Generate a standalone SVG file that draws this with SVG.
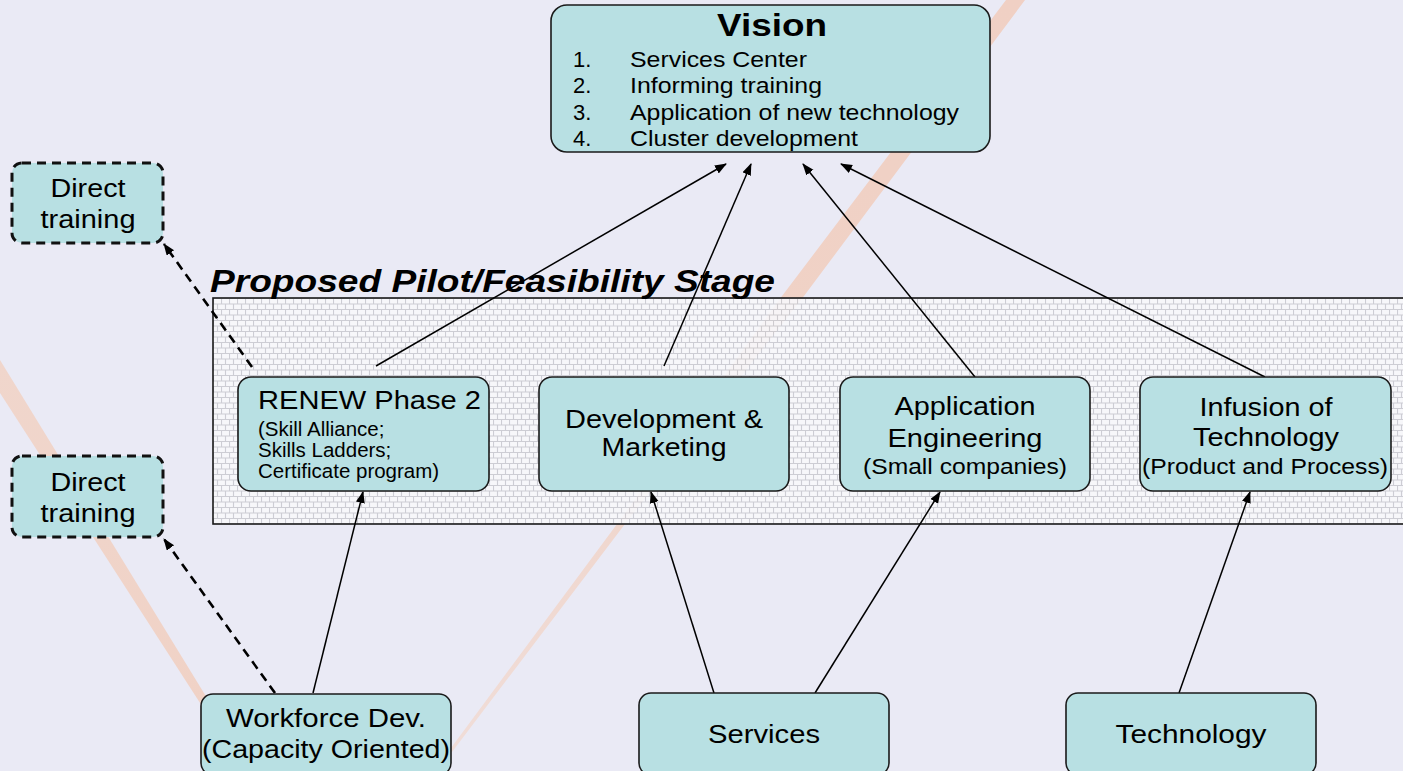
<svg xmlns="http://www.w3.org/2000/svg" width="1403" height="771" viewBox="0 0 1403 771">
<defs>
<style>
.node{fill:#B8E0E3;stroke:#1a1a1a;stroke-width:1.6}
.dash{fill:#B8E0E3;stroke:#111;stroke-width:3;stroke-dasharray:9 6}
.t{font-family:"Liberation Sans",Arial,sans-serif;fill:#000}
.c{text-anchor:middle}
.conn{fill:none;stroke:#000;stroke-width:1.5}
.dconn{fill:none;stroke:#000;stroke-width:2.6;stroke-dasharray:9 6}
</style>
<linearGradient id="streakR" x1="0" y1="0" x2="0" y2="752" gradientUnits="userSpaceOnUse">
<stop offset="0" stop-color="#F0D0C4"/>
<stop offset="0.45" stop-color="#F0D2C6"/>
<stop offset="1" stop-color="#F0DDD8"/>
</linearGradient>
<linearGradient id="streakL" x1="0" y1="360" x2="0" y2="706" gradientUnits="userSpaceOnUse">
<stop offset="0" stop-color="#F0D6CC"/>
<stop offset="1" stop-color="#F0D2C6"/>
</linearGradient>
<marker id="ah" markerWidth="12" markerHeight="10" refX="11" refY="4.5" orient="auto" markerUnits="userSpaceOnUse">
<path d="M0,0 L12,4.5 L0,9 z" fill="#000"/>
</marker>
<pattern id="bricks" width="8" height="11" patternUnits="userSpaceOnUse" x="213" y="298">
<rect width="8" height="11" fill="#F8F8FB"/>
<path d="M0,0.5 H8 M0,6 H8 M0.5,0 V5.5 M4.5,5.5 V11" stroke="#CACAD0" stroke-width="1.1" fill="none"/>
</pattern>
</defs>
<rect width="1403" height="771" fill="#EAEAF5"/>
<g id="decor">
<polygon points="0,360 0,393 202,706 207,698" fill="url(#streakL)"/>
<polygon points="1006,0 1025,0 801,300 628,520 452,752 448,752 620,520 779,300" fill="url(#streakR)"/>
</g>
<g id="stage">
<rect x="213" y="298" width="1200" height="226" fill="url(#bricks)" opacity="0.9"/>
<rect x="213" y="298" width="1200" height="226" fill="none" stroke="#1a1a1a" stroke-width="1.6"/>
<text class="t" x="210" y="292" font-size="31" font-weight="bold" font-style="italic" textLength="565" lengthAdjust="spacingAndGlyphs">Proposed Pilot/Feasibility Stage</text>
</g>
<g id="connectors">
<path class="conn" d="M376,366 L726,164" marker-end="url(#ah)"/>
<path class="conn" d="M664,366 L751,164" marker-end="url(#ah)"/>
<path class="conn" d="M975,377 L803,164" marker-end="url(#ah)"/>
<path class="conn" d="M1265,377 L841,164" marker-end="url(#ah)"/>
<path class="conn" d="M313,693 L363,492" marker-end="url(#ah)"/>
<path class="conn" d="M714,693 L651,492" marker-end="url(#ah)"/>
<path class="conn" d="M815,693 L940,492" marker-end="url(#ah)"/>
<path class="conn" d="M1179,693 L1250,492" marker-end="url(#ah)"/>
<path class="dconn" d="M275,693 L164,539" marker-end="url(#ah)"/>
<path class="dconn" d="M252,367 L164,244" marker-end="url(#ah)"/>
</g>
<g id="vision">
<rect class="node" x="551" y="5" width="439" height="147" rx="16"/>
<text class="t c" x="772" y="36" font-size="32" font-weight="bold" textLength="110" lengthAdjust="spacingAndGlyphs">Vision</text>
<text class="t" x="573" y="67" font-size="22">1.</text>
<text class="t" x="630" y="67" font-size="22" textLength="177" lengthAdjust="spacingAndGlyphs">Services Center</text>
<text class="t" x="573" y="93" font-size="22">2.</text>
<text class="t" x="630" y="93" font-size="22" textLength="192" lengthAdjust="spacingAndGlyphs">Informing training</text>
<text class="t" x="573" y="120" font-size="22">3.</text>
<text class="t" x="630" y="120" font-size="22" textLength="329" lengthAdjust="spacingAndGlyphs">Application of new technology</text>
<text class="t" x="573" y="146" font-size="22">4.</text>
<text class="t" x="630" y="146" font-size="22" textLength="228" lengthAdjust="spacingAndGlyphs">Cluster development</text>
</g>
<g id="direct1">
<rect class="dash" x="12" y="163" width="151" height="80" rx="10"/>
<text class="t c" x="88" y="197" font-size="25" textLength="75" lengthAdjust="spacingAndGlyphs">Direct</text>
<text class="t c" x="88" y="228" font-size="25" textLength="95" lengthAdjust="spacingAndGlyphs">training</text>
</g>
<g id="direct2">
<rect class="dash" x="12" y="456" width="151" height="81" rx="10"/>
<text class="t c" x="88" y="491" font-size="25" textLength="75" lengthAdjust="spacingAndGlyphs">Direct</text>
<text class="t c" x="88" y="522" font-size="25" textLength="95" lengthAdjust="spacingAndGlyphs">training</text>
</g>
<g id="renew">
<rect class="node" x="238" y="377" width="251" height="114" rx="13"/>
<text class="t" x="258" y="409" font-size="26" textLength="223" lengthAdjust="spacingAndGlyphs">RENEW Phase 2</text>
<text class="t" x="258" y="436" font-size="20.5">(Skill Alliance;</text>
<text class="t" x="258" y="457" font-size="20.5">Skills Ladders;</text>
<text class="t" x="258" y="478" font-size="20.5">Certificate program)</text>
</g>
<g id="devmkt">
<rect class="node" x="539" y="377" width="250" height="114" rx="13"/>
<text class="t c" x="664" y="428" font-size="26" textLength="198" lengthAdjust="spacingAndGlyphs">Development &amp;</text>
<text class="t c" x="664" y="456" font-size="26" textLength="125" lengthAdjust="spacingAndGlyphs">Marketing</text>
</g>
<g id="appeng">
<rect class="node" x="840" y="377" width="250" height="114" rx="13"/>
<text class="t c" x="965" y="415" font-size="26" textLength="141" lengthAdjust="spacingAndGlyphs">Application</text>
<text class="t c" x="965" y="447" font-size="26" textLength="155" lengthAdjust="spacingAndGlyphs">Engineering</text>
<text class="t c" x="965" y="474" font-size="22" textLength="204" lengthAdjust="spacingAndGlyphs">(Small companies)</text>
</g>
<g id="infusion">
<rect class="node" x="1140" y="377" width="251" height="114" rx="13"/>
<text class="t c" x="1266" y="416" font-size="26" textLength="133" lengthAdjust="spacingAndGlyphs">Infusion of</text>
<text class="t c" x="1266" y="446" font-size="26" textLength="146" lengthAdjust="spacingAndGlyphs">Technology</text>
<text class="t c" x="1265" y="474" font-size="22" textLength="246" lengthAdjust="spacingAndGlyphs">(Product and Process)</text>
</g>
<g id="workforce">
<rect class="node" x="201" y="694" width="250" height="81" rx="12"/>
<text class="t c" x="326" y="727" font-size="26" textLength="200" lengthAdjust="spacingAndGlyphs">Workforce Dev.</text>
<text class="t c" x="326" y="758" font-size="26" textLength="248" lengthAdjust="spacingAndGlyphs">(Capacity Oriented)</text>
</g>
<g id="services">
<rect class="node" x="639" y="693" width="250" height="82" rx="12"/>
<text class="t c" x="764" y="743" font-size="26" textLength="112" lengthAdjust="spacingAndGlyphs">Services</text>
</g>
<g id="technology">
<rect class="node" x="1066" y="693" width="250" height="82" rx="12"/>
<text class="t c" x="1191" y="743" font-size="26" textLength="151" lengthAdjust="spacingAndGlyphs">Technology</text>
</g>
</svg>
